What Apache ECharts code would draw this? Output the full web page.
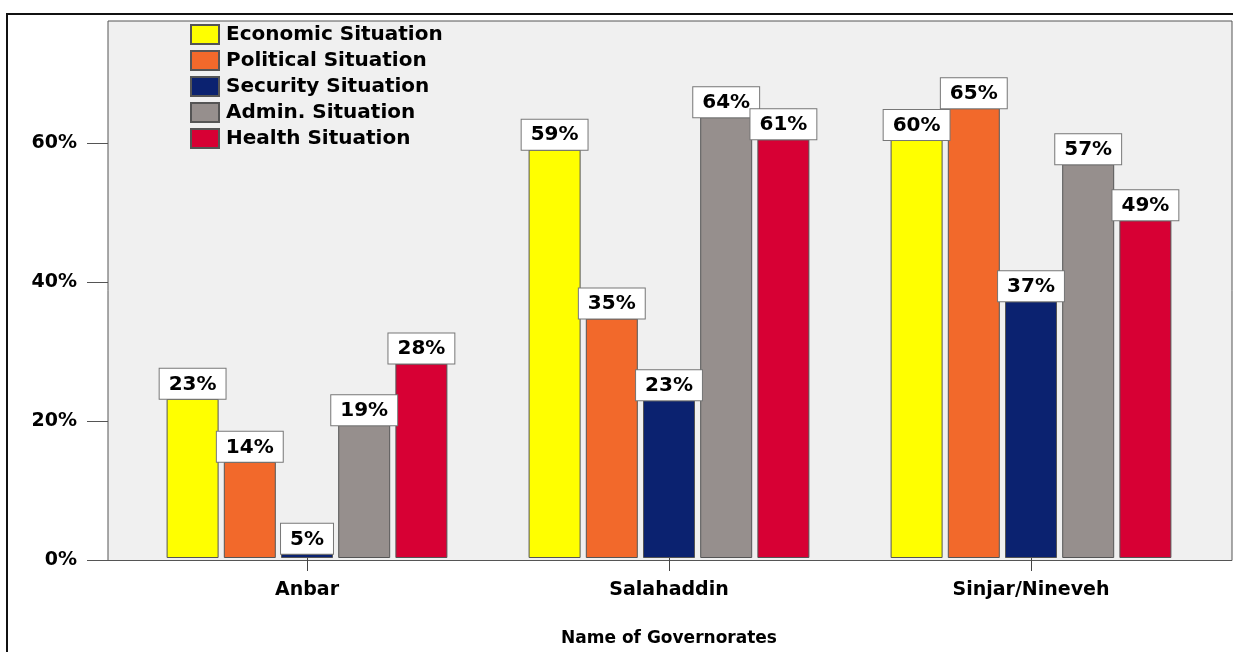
<!DOCTYPE html>
<html>
<head>
<meta charset="utf-8">
<style>
html,body{margin:0;padding:0;background:#fff;}
#chart{width:1233px;height:652px;}
</style>
<script src="https://cdn.jsdelivr.net/npm/echarts@6/dist/echarts.min.js"></script>
</head>
<body>
<div id="chart"></div>
<script>
// ---- data ----
const categories = ['Anbar', 'Salahaddin', 'Sinjar/Nineveh'];
const seriesNames = ['Economic Situation', 'Political Situation', 'Security Situation', 'Admin. Situation', 'Health Situation'];
// bar heights (percent)
const economic  = [23.0, 59.0, 60.4];
const political = [13.9, 34.6, 65.0];
const security  = [0.6, 22.8, 37.1];
const admin     = [19.2, 63.7, 56.9];
const health    = [28.1, 60.5, 48.8];
// data label texts as printed
const economicLabels  = ['23%', '59%', '60%'];
const politicalLabels = ['14%', '35%', '65%'];
const securityLabels  = ['5%', '23%', '37%'];
const adminLabels     = ['19%', '64%', '57%'];
const healthLabels    = ['28%', '61%', '49%'];
const yTicks = [0, 20, 40, 60];
const yMax = 77.6;

const values = [economic, political, security, admin, health];
const labelTexts = [economicLabels, politicalLabels, securityLabels, adminLabels, healthLabels];
const colors = ['#ffff00', '#f2692b', '#0b2270', '#968f8d', '#d70034'];

const FONT = 'DejaVu Sans';
const chart = echarts.init(document.getElementById('chart'), null, {renderer: 'canvas'});

const series = seriesNames.map((name, i) => ({
  name: name,
  type: 'bar',
  xAxisIndex: 1,
  yAxisIndex: 1,
  data: values[i],
  barWidth: 52,
  barGap: '10%',
  itemStyle: {color: colors[i], borderColor: '#555', borderWidth: 1},
  emphasis: {disabled: true},
  label: {
    show: true,
    position: 'top',
    distance: 0,
    formatter: p => labelTexts[i][p.dataIndex],
    fontFamily: FONT,
    fontWeight: 'bold',
    fontSize: 20,
    lineHeight: 21,
    color: '#000',
    backgroundColor: '#fff',
    borderColor: '#777',
    borderWidth: 1,
    padding: [5, 9, 4, 9]
  }
}));

chart.setOption({
  animation: false,
  graphic: [
    {type: 'line', shape: {x1: 6, y1: 14, x2: 1233, y2: 14}, style: {stroke: '#111', lineWidth: 2}, z: 100},
    {type: 'line', shape: {x1: 7, y1: 14, x2: 7, y2: 652}, style: {stroke: '#111', lineWidth: 2}, z: 100}
  ],
  legend: {
    orient: 'vertical',
    left: 190,
    top: 24,
    padding: 0,
    itemWidth: 28,
    itemHeight: 19,
    itemGap: 5,
    icon: 'rect',
    data: seriesNames,
    textStyle: {fontFamily: FONT, fontWeight: 'bold', fontSize: 20, lineHeight: 19, color: '#000', padding: [0, 0, 0, 2]}
  },
  grid: [
    {left: 108, right: 1, top: 21, bottom: 91.5, show: true, backgroundColor: '#f0f0f0', borderColor: '#555', borderWidth: 1, z: 0},
    {left: 126, right: 21, top: 21, bottom: 91.5}
  ],
  xAxis: [
    {type: 'category', gridIndex: 0, data: categories, show: false},
    {
      type: 'category', gridIndex: 1, data: categories,
      axisLine: {show: false},
      axisTick: {show: true, alignWithLabel: true, length: 13, lineStyle: {color: '#444', width: 1}},
      axisLabel: {fontFamily: FONT, fontWeight: 'bold', fontSize: 19, color: '#000', margin: 23},
      name: 'Name of Governorates',
      nameLocation: 'middle',
      nameGap: 72,
      nameTextStyle: {fontFamily: FONT, fontWeight: 'bold', fontSize: 17, color: '#000'}
    }
  ],
  yAxis: [
    {
      type: 'value', gridIndex: 0, min: 0, max: yMax, interval: 20,
      axisLine: {show: false},
      splitLine: {show: false},
      axisTick: {show: true, length: 21, customValues: yTicks, lineStyle: {color: '#555', width: 1}},
      axisLabel: {customValues: yTicks, formatter: '{value}%', fontFamily: FONT, fontWeight: 'bold', fontSize: 19, color: '#000', margin: 31}
    },
    {type: 'value', gridIndex: 1, min: 0, max: yMax, show: false, splitLine: {show: false}}
  ],
  series: series
});
</script>
</body>
</html>
